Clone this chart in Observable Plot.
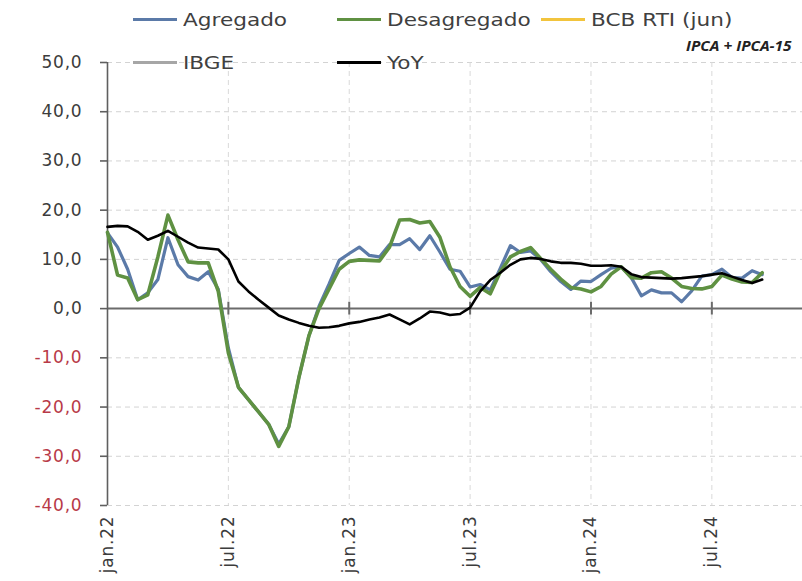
<!DOCTYPE html>
<html><head><meta charset="utf-8">
<script src="https://cdn.jsdelivr.net/npm/d3@7"></script>
<script src="https://cdn.jsdelivr.net/npm/@observablehq/plot@0.6"></script>
<style>
html,body{margin:0;padding:0;background:#fff;}
body{width:802px;height:581px;overflow:hidden;position:relative;font-family:"DejaVu Sans",sans-serif;}
#chart{position:absolute;left:0;top:0;}
.li{position:absolute;height:22px;display:flex;align-items:center;font-size:18px;color:#404040;white-space:nowrap;}
.li span.sw{display:inline-block;width:44px;height:3px;margin-right:6px;}
.li span.tx{display:inline-block;transform:scaleX(1.2);transform-origin:left center;}
#note{position:absolute;left:686px;top:36px;font-family:"Open Sans",sans-serif;font-weight:bold;font-style:italic;font-size:14px;color:#222;white-space:nowrap;transform:scaleX(1.1);transform-origin:left center;}
.c g[aria-label="x-axis tick label"] text{letter-spacing:0.8px;}
.c g[aria-label="y-axis tick label"] text{letter-spacing:0.8px;}
</style></head><body>
<div id="chart"></div>
<div id="legend"></div>
<div id="note">IPCA + IPCA-15</div>
<script>
// half-month periods starting jan.22
const periods = d3.range(66);
const tickPos = [0, 12, 24, 36, 48, 60];
const tickLabels = ["jan.22", "jul.22", "jan.23", "jul.23", "jan.24", "jul.24"];
const yTicks = [50, 40, 30, 20, 10, 0, -10, -20, -30, -40];

const agregado = [15.4, 12.5, 8.0, 1.8, 3.2, 5.9, 14.4, 8.9, 6.5, 5.8,
  7.5, 3.9, -8.0, -16.0, -18.5, -21.0, -23.5, -27.5, -24.0, -14.0,
  -5.5, 0.5, 5.0, 9.8, 11.2, 12.5, 10.8, 10.5, 13.0, 13.0,
  14.2, 12.0, 14.8, 11.5, 8.0, 7.6, 4.4, 4.9, 3.8, 8.2,
  12.8, 11.4, 11.7, 10.0, 7.5, 5.5, 3.9, 5.6, 5.5, 6.9,
  8.2, 8.5, 6.3, 2.6, 3.8, 3.2, 3.2, 1.4, 3.6, 6.6,
  6.9, 8.0, 6.3, 6.2, 7.7, 6.9];

const desagregado = [15.5, 6.8, 6.2, 1.8, 2.8, 10.5, 19.0, 14.0, 9.5, 9.3,
  9.3, 3.5, -9.0, -16.0, -18.5, -21.0, -23.5, -28.0, -24.0, -14.0,
  -5.5, 0.0, 4.0, 8.0, 9.6, 9.9, 9.8, 9.7, 12.5, 18.0,
  18.1, 17.4, 17.7, 14.5, 8.5, 4.5, 2.5, 4.3, 3.0, 7.5,
  10.5, 11.6, 12.4, 10.2, 8.0, 6.0, 4.3, 4.0, 3.4, 4.5,
  7.0, 8.5, 6.3, 6.2, 7.3, 7.5, 6.2, 4.5, 4.1, 4.0,
  4.5, 6.8, 6.0, 5.4, 5.3, 7.3];

const yoy = [16.6, 16.8, 16.7, 15.6, 14.0, 14.8, 15.8, 14.6, 13.4, 12.4,
  12.2, 12.0, 10.0, 5.5, 3.5, 1.8, 0.2, -1.4, -2.2, -2.9,
  -3.5, -3.9, -3.8, -3.5, -3.0, -2.7, -2.2, -1.8, -1.2, -2.2,
  -3.2, -2.0, -0.6, -0.8, -1.3, -1.1, 0.2, 3.5, 5.8, 7.3,
  8.9, 10.0, 10.3, 10.1, 9.6, 9.3, 9.3, 9.1, 8.7, 8.7,
  8.8, 8.5, 7.0, 6.4, 6.3, 6.2, 6.1, 6.2, 6.4, 6.6,
  6.9, 7.2, 6.5, 5.8, 5.2, 5.9];

const seriesNames = ["Agregado", "Desagregado", "BCB RTI (jun)", "IBGE", "YoY"];
const seriesColors = ["#5b7aa8", "#5f9142", "#f2c43d", "#a6a6a6", "#000000"];

const fmt = d => d.toFixed(1).replace(".", ",");
const axisGray = "#5f5f5f";

const chart = Plot.plot({
  width: 802,
  height: 581,
  marginLeft: 107,
  marginRight: 0,
  marginTop: 62,
  marginBottom: 76,
  className: "c",
  style: {fontFamily: "DejaVu Sans, sans-serif", background: "#fff", overflow: "visible"},
  x: {domain: [0, 69], axis: null},
  y: {domain: [-40, 50], axis: null},
  marks: [
    Plot.ruleY(yTicks.filter(d => d !== 0), {stroke: "#d3d3d3", strokeWidth: 1, strokeDasharray: "5,4"}),
    Plot.ruleX(tickPos.slice(1), {stroke: "#d9d9d9", strokeWidth: 1, strokeDasharray: "5,4"}),
    Plot.ruleY([0], {stroke: "#6b6b6b", strokeWidth: 2}),
    Plot.ruleX(tickPos.slice(1), {y1: -1.3, y2: 1.3, stroke: "#6b6b6b", strokeWidth: 2}),
    Plot.ruleX([0], {stroke: axisGray, strokeWidth: 1.6}),
    Plot.axisY(yTicks.filter(d => d >= 0), {tickSize: 7, tickPadding: 18, tickFormat: fmt, stroke: axisGray, strokeWidth: 1.6, fill: "#3c3c3c", fontSize: 17, label: null}),
    Plot.axisY(yTicks.filter(d => d < 0), {tickSize: 7, tickPadding: 18, tickFormat: fmt, stroke: axisGray, strokeWidth: 1.6, fill: "#b83a48", fontSize: 17, label: null}),
    Plot.axisX(tickPos, {tickSize: 0, tickPadding: 10, tickRotate: -90, tickFormat: (d, i) => tickLabels[i], fill: "#3c3c3c", fontSize: 17, label: null}),
    Plot.lineY(agregado, {x: periods, stroke: seriesColors[0], strokeWidth: 3.2}),
    Plot.lineY(desagregado, {x: periods, stroke: seriesColors[1], strokeWidth: 3.6}),
    Plot.lineY(yoy, {x: periods, stroke: seriesColors[4], strokeWidth: 2.6})
  ]
});
document.getElementById("chart").appendChild(chart);

// legend
const legendPos = [[133, 8], [337, 8], [541, 8], [133, 51], [337, 51]];
const leg = document.getElementById("legend");
seriesNames.forEach((name, i) => {
  const el = document.createElement("div");
  el.className = "li";
  el.style.left = legendPos[i][0] + "px";
  el.style.top = legendPos[i][1] + "px";
  el.innerHTML = `<span class="sw" style="background:${seriesColors[i]}"></span><span class="tx">${name}</span>`;
  leg.appendChild(el);
});
</script>
</body></html>
